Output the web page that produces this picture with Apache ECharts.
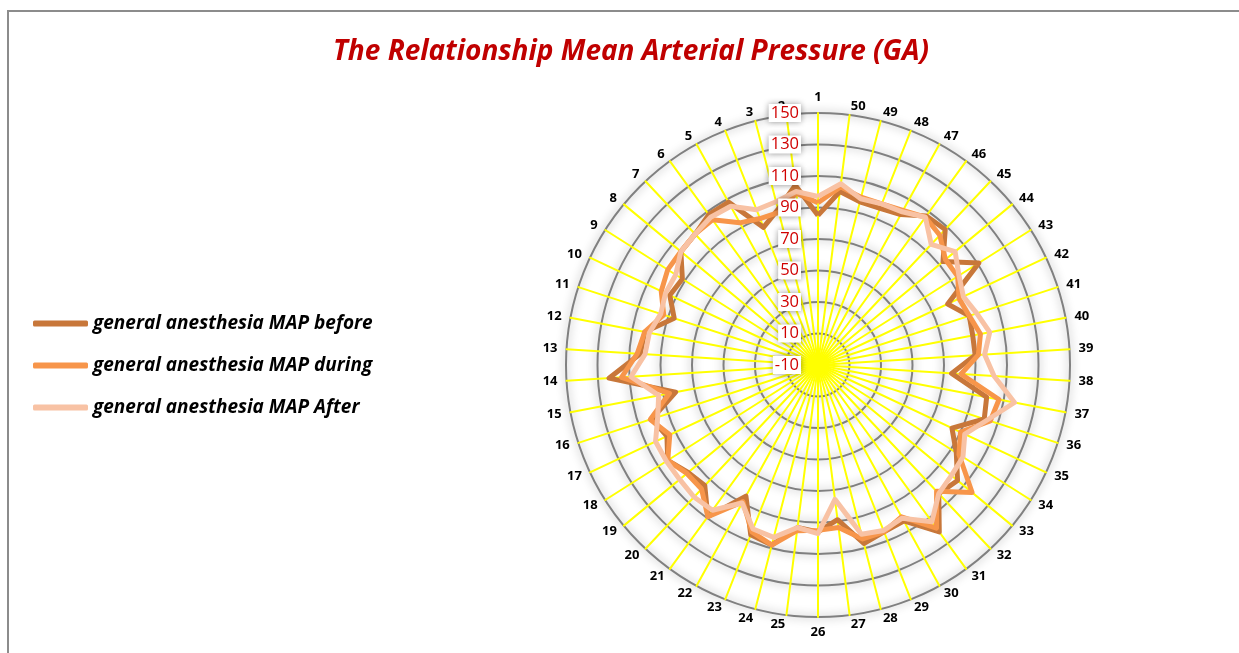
<!DOCTYPE html>
<html>
<head>
<meta charset="utf-8">
<script src="https://cdn.jsdelivr.net/npm/echarts@6/dist/echarts.min.js"></script>
<style>
html,body{margin:0;padding:0;background:#fff;}
#c{width:1239px;height:653px;}
</style>
</head>
<body>
<div id="c"></div>
<script>
// ---- data ----
const categories = Array.from({length: 50}, (_, i) => String(i + 1));
const ringLabels = [-10, 10, 30, 50, 70, 90, 110, 130, 150];
const seriesNames = ['general anesthesia MAP before', 'general anesthesia MAP during', 'general anesthesia MAP After'];
const mapBefore = [85,105,92,84,108,108,104,103,92,94,86,102,103,123,82,101,96,103,97,95,109,85,106,108,94,96,89,107,104,103,121,102,105,94,84,101,99,75,90,90,91,81,111,93,108,107,99,97,97,101];
const mapDuring = [93,100,90,90,93,104,104,103,103,100,93,102,105,115,86,102,94,103,98,98,109,89,104,108,96,95,94,104,104,100,118,100,117,96,90,105,107,81,92,95,91,89,95,95,103,106,102,100,100,104];
const mapAfter  = [97,101,97,96,105,106,104,103,97,97,95,99,100,109,93,97,104,104,104,105,104,90,102,103,94,97,76,101,103,101,113,102,100,99,93,103,117,102,96,101,96,92,96,103,95,106,101,100,99,106];
const colors = ['#C8773A', '#F7954A', '#F8C2A4'];

const chart = echarts.init(document.getElementById('c'));
const center = [818, 365];
const radius = 252;
const font = 'Open Sans';

chart.setOption({
  animation: false,
  graphic: [{
    type: 'rect', silent: true,
    shape: {x: 8, y: 11, width: 1400, height: 800},
    style: {fill: 'none', stroke: '#8c8c8c', lineWidth: 2}
  }],
  title: {
    text: 'The Relationship Mean Arterial Pressure (GA)',
    left: 328, top: 33,
    textStyle: {color: '#C00000', fontSize: 28, fontWeight: 'bold', fontStyle: 'italic', fontFamily: font}
  },
  legend: {
    orient: 'vertical', left: 28, top: 309,
    itemWidth: 55, itemHeight: 6, itemGap: 23,
    icon: 'roundRect',
    data: seriesNames,
    textStyle: {color: '#000', fontSize: 19, fontWeight: 'bold', fontStyle: 'italic', fontFamily: font}
  },
  radar: {
    center: center, radius: radius, startAngle: 90, shape: 'circle', splitNumber: 8,
    indicator: categories.map(n => ({name: n, min: ringLabels[0], max: ringLabels[ringLabels.length - 1]})),
    nameGap: 9,
    axisName: {color: '#000', fontWeight: 'bold', fontSize: 13, fontFamily: font},
    axisLine: {lineStyle: {color: '#FFFF00', width: 2}},
    splitLine: {lineStyle: {color: '#808080', width: 2, shadowBlur: 10, shadowColor: 'rgba(0,0,0,0.4)'}},
    splitArea: {show: false},
    axisTick: {show: false},
    axisLabel: {show: false}
  },
  polar: {center: center, radius: radius},
  angleAxis: {show: false, startAngle: 90, min: 0, max: 360},
  radiusAxis: {
    type: 'value', min: ringLabels[0], max: ringLabels[ringLabels.length - 1], interval: 20,
    axisLine: {show: false}, axisTick: {show: false}, splitLine: {show: false}, splitArea: {show: false},
    axisLabel: {
      show: true, margin: 17, color: '#D00000', fontSize: 16.5, fontFamily: font,
      backgroundColor: '#fff', padding: [1, 2, 0, 2],
      shadowBlur: 6, shadowColor: 'rgba(0,0,0,0.4)'
    },
    z: 10
  },
  series: [{
    type: 'radar',
    symbol: 'none',
    data: [
      {name: seriesNames[0], value: mapBefore, lineStyle: {color: colors[0], width: 5}, itemStyle: {color: colors[0]}},
      {name: seriesNames[1], value: mapDuring, lineStyle: {color: colors[1], width: 5}, itemStyle: {color: colors[1]}},
      {name: seriesNames[2], value: mapAfter, lineStyle: {color: colors[2], width: 5}, itemStyle: {color: colors[2]}}
    ]
  }]
});
</script>
</body>
</html>
